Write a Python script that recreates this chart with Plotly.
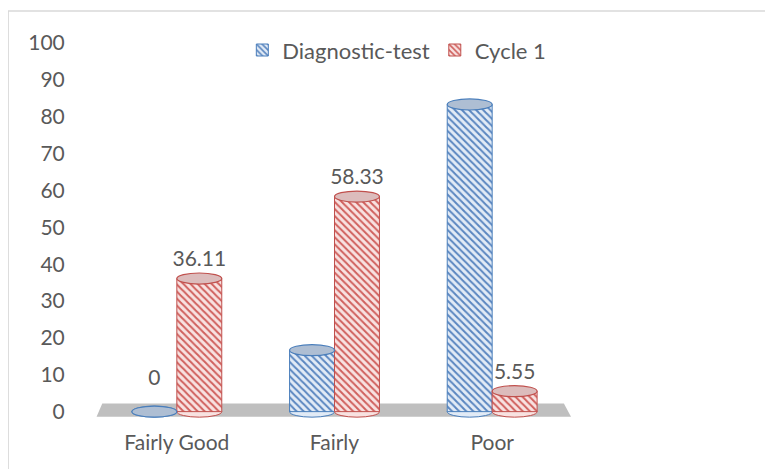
import plotly.graph_objects as go

categories = ["Fairly Good", "Fairly", "Poor"]
diagnostic = [0, 16.67, 83.33]
cycle1 = [36.11, 58.33, 5.55]
diag_labels = ["0", "", ""]
cycle_labels = ["36.11", "58.33", "5.55"]
y_ticks = [0, 10, 20, 30, 40, 50, 60, 70, 80, 90, 100]

FONT = "Lato"
TXT = "#595959"
BLUE_LINE = "#4a7ebb"
BLUE_FG = "#5a86c0"
BLUE_BG = "#e2ebf6"
RED_LINE = "#c0504d"
RED_FG = "#d0605d"
RED_BG = "#f8e2e1"
BLUE_TOP = "#aebed3"
RED_TOP = "#dcbcbc"

BARGAP = 0.43
BW = (1 - BARGAP) / 2
ELL_H = 3.0
FS = 21

fig = go.Figure()

fig.add_trace(go.Bar(
    x=categories, y=diagnostic, name="Diagnostic-test",
    marker=dict(color=BLUE_BG, line=dict(color=BLUE_LINE, width=1),
                pattern=dict(shape="\\", fgcolor=BLUE_FG, bgcolor=BLUE_BG,
                             size=5, solidity=0.4, fillmode="replace")),
))
fig.add_trace(go.Bar(
    x=categories, y=cycle1, name="Cycle 1",
    marker=dict(color=RED_BG, line=dict(color=RED_LINE, width=1),
                pattern=dict(shape="\\", fgcolor=RED_FG, bgcolor=RED_BG,
                             size=5, solidity=0.4, fillmode="replace")),
))

# labels
fig.add_trace(go.Scatter(
    x=[i - BW / 2 for i in range(len(categories))], y=[v + 8.7 for v in diagnostic],
    mode="text", text=diag_labels, textfont=dict(family=FONT, size=FS, color=TXT),
    showlegend=False, hoverinfo="skip", xaxis="x2"))
fig.add_trace(go.Scatter(
    x=[i + BW / 2 for i in range(len(categories))], y=[v + 4.8 for v in cycle1],
    mode="text", text=cycle_labels, textfont=dict(family=FONT, size=FS, color=TXT),
    showlegend=False, hoverinfo="skip", xaxis="x2"))

shapes = []
# outer border
shapes.append(dict(type="rect", xref="paper", yref="paper", x0=-0.19, x1=1.5,
                   y0=-0.3, y1=1.085, line=dict(color="#d9d9d9", width=1.5),
                   fillcolor="rgba(0,0,0,0)", layer="below"))
# floor
shapes.append(dict(type="path", xref="x domain", yref="y",
                   path="M 0.009,2.2 L 0.985,2.2 L 1.0,-1.4 L -0.003,-1.4 Z",
                   fillcolor="#bfbfbf", line=dict(width=0), layer="below"))

for series, off, line, top, bg in [(diagnostic, -BW / 2, BLUE_LINE, BLUE_TOP, BLUE_BG),
                                   (cycle1, BW / 2, RED_LINE, RED_TOP, RED_BG)]:
    for i, v in enumerate(series):
        cx = i + off
        shapes.append(dict(type="circle", xref="x", yref="y",
                           x0=cx - BW / 2, x1=cx + BW / 2,
                           y0=-ELL_H / 2, y1=ELL_H / 2,
                           fillcolor=bg, line=dict(color=line, width=1), layer="below"))
        shapes.append(dict(type="circle", xref="x", yref="y",
                           x0=cx - BW / 2, x1=cx + BW / 2,
                           y0=v - ELL_H / 2, y1=v + ELL_H / 2,
                           fillcolor=top, line=dict(color=line, width=1.2), layer="above"))

fig.update_layout(
    width=773, height=469,
    margin=dict(l=90, r=210, t=35, b=58, autoexpand=False),
    paper_bgcolor="white", plot_bgcolor="rgba(0,0,0,0)",
    barmode="group", bargap=BARGAP, bargroupgap=0,
    font=dict(family=FONT, size=FS, color=TXT),
    showlegend=True,
    legend=dict(orientation="h", xref="container", yref="container",
                x=0.503, xanchor="center", y=0.91, yanchor="middle",
                font=dict(family=FONT, size=22, color=TXT), itemwidth=30,
                bgcolor="rgba(0,0,0,0)"),
    xaxis=dict(type="category", range=[-0.5, 2.5], showgrid=False, showline=False,
               zeroline=False, ticks="outside", ticklen=5, tickcolor="rgba(0,0,0,0)",
               tickfont=dict(family=FONT, size=FS, color=TXT)),
    xaxis2=dict(overlaying="x", range=[-0.5, 2.5], visible=False),
    yaxis=dict(range=[-2, 100], tickvals=y_ticks, showgrid=False, showline=False,
               zeroline=False, ticks="outside", ticklen=28, tickcolor="rgba(0,0,0,0)",
               tickfont=dict(family=FONT, size=FS, color=TXT)),
    shapes=shapes,
)

fig.write_html("out.html")
